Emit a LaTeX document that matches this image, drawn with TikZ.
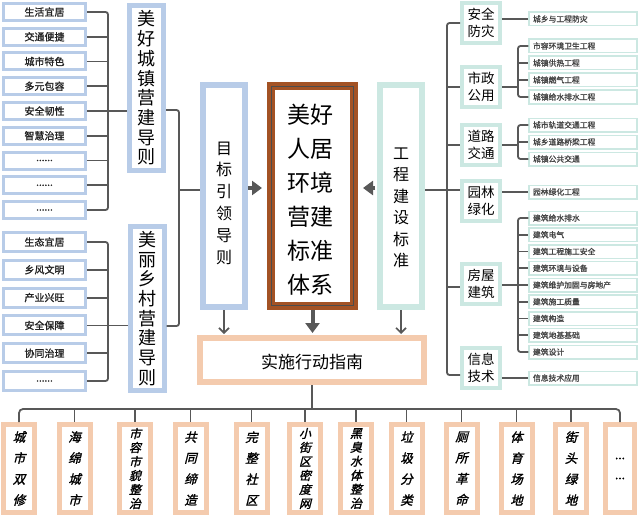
\documentclass[tikz,border=0pt]{standalone}
\usepackage{fontspec}
\setmainfont{Noto Sans CJK SC}
\newfontfamily\cjkb{Noto Sans CJK SC}[FakeBold=1.2]
\newfontfamily\cjkit{Noto Sans CJK SC}[FakeSlant=0.25,FakeBold=1.5]
\usetikzlibrary{arrows.meta}
\definecolor{blueb}{RGB}{184,204,232}
\definecolor{tealc}{RGB}{204,232,226}
\definecolor{peach}{RGB}{244,203,174}
\definecolor{brownc}{RGB}{163,82,36}
\definecolor{linec}{RGB}{88,88,88}
\definecolor{txt}{RGB}{35,35,35}
\newcommand{\mydots}{......}
\begin{document}
\begin{tikzpicture}[x=1pt,y=-1pt,
  conn/.style={draw=linec, line width=1.8pt, rounded corners=2.5pt},
  lbox/.style={draw=blueb, line width=3pt, fill=white, minimum width=82pt, inner sep=0pt, text=txt, font=\cjkb\fontsize{10}{10}\selectfont},
  bigv/.style={draw=blueb, line width=5pt, fill=white, minimum width=34pt, minimum height=165pt, inner sep=0pt, align=center, font=\fontsize{18}{19.7}\selectfont},
  colbox/.style={line width=6pt, fill=white, minimum width=42pt, minimum height=222pt, inner sep=0pt},
  vtext/.style={align=center, inner sep=0pt, font=\fontsize{16}{21.8}\selectfont},
  cat/.style={draw=tealc, line width=4pt, fill=white, minimum width=38pt, minimum height=40pt, inner sep=0pt, align=center, font=\fontsize{13.5}{16.5}\selectfont},
  leaf/.style={draw=tealc, line width=1.5pt, fill=white, text width=100pt, inner xsep=4pt, inner ysep=0pt, minimum height=13.5pt, align=left, text=txt!85, font=\cjkb\fontsize{7.8}{8}\selectfont},
  bbox/.style={draw=peach, line width=5pt, fill=white, minimum width=31pt, minimum height=88pt, inner sep=0pt, align=center},
  b4/.style={bbox, font=\cjkit\fontsize{12.5}{21}\selectfont},
  b6/.style={bbox, font=\cjkit\fontsize{12}{14}\selectfont},
  fat/.style={draw=linec, line width=4pt, -{Triangle[length=10pt,width=14pt]}},
  thin/.style={draw=linec, line width=1.6pt, -{Straight Barb[length=5pt,width=10pt]}}
]
\useasboundingbox (0,0) rectangle (640,519);

% left top group
\foreach \t [count=\i] in {生活宜居,交通便捷,城市特色,多元包容,安全韧性,智慧治理,\mydots,\mydots,\mydots}
  \node[lbox, minimum height=17pt] (t\i) at (44.5,{12+24.75*(\i-1)}) {\t};
% left bottom group
\foreach \t [count=\i] in {生态宜居,乡风文明,产业兴旺,安全保障,协同治理,\mydots}
  \node[lbox, minimum height=19pt] (r\i) at (44.5,{242+27.8*(\i-1)}) {\t};

\node[bigv] (city) at (146.5,88) {美\\好\\城\\镇\\营\\建\\导\\则};
\node[bigv, minimum height=164pt] (rural) at (147,308.5) {美\\丽\\乡\\村\\营\\建\\导\\则};

\coordinate (busA) at (108,0);
\coordinate (busM) at (179,0);
\coordinate (busR) at (447,0);
\coordinate (brk) at (518,0);
\coordinate (busB) at (0,409);

\draw[conn] (t1.east) -- (t1.east -| busA) -- (t9.east -| busA) -- (t9.east);
\foreach \i in {2,...,8} \draw[conn] (t\i.east) -- (t\i.east -| busA);
\draw[conn] (t5.east -| busA) -- (city.west |- t5.east);
\draw[conn] (r1.east) -- (r1.east -| busA) -- (r6.east -| busA) -- (r6.east);
\foreach \i in {2,...,5} \draw[conn] (r\i.east) -- (r\i.east -| busA);
\draw[conn] (r4.east -| busA) -- (rural.west |- r4.east);

% central boxes
\node[colbox, draw=blueb] (goal) at (224,196) {};
\node[vtext] at (224,203) {目\\标\\引\\领\\导\\则};
\node[colbox, draw=brownc, line width=8pt, minimum width=83pt, minimum height=220pt] (main) at (312.5,196) {};
\draw[line width=0.7pt, black!70] ([shift={(4.4,4.4)}]main.north west) rectangle ([shift={(-4.4,-4.4)}]main.south east);
\node[align=center, inner sep=0pt, font=\fontsize{23}{34}\selectfont] at (310,200) {美好\\人居\\环境\\营建\\标准\\体系};
\node[colbox, draw=tealc] (eng) at (401,196) {};
\node[vtext, font=\fontsize{16}{21.5}\selectfont] at (401,208) {工\\程\\建\\设\\标\\准};

\draw[conn] ([yshift=-22pt]city.east) -- ([yshift=-22pt]city.east -| busM) -- ([yshift=-17.5pt]rural.east -| busM) -- ([yshift=-17.5pt]rural.east);
\draw[conn] ([yshift=6pt]goal.west -| busM) -- ([yshift=6pt]goal.west);

\draw[fat, shorten >=5pt] ([yshift=8pt]goal.east) -- ([yshift=8pt]main.west);
\draw[fat, shorten >=5pt, shorten <=2pt] ([yshift=8pt]eng.west) -- ([yshift=8pt]main.east);

% action box
\node[draw=peach, line width=6pt, fill=white, minimum width=224pt, minimum height=44pt, inner sep=0pt] (act) at (312,360) {};
\node[font=\fontsize{17}{17}\selectfont, inner sep=0pt] at (312,362) {实施行动指南};
\draw[thin, shorten >=1pt] (goal.south) -- (goal.south |- act.north);
\draw[thin, shorten >=1pt] (eng.south) -- (eng.south |- act.north);
\draw[fat, shorten >=2pt] (main.south) -- (main.south |- act.north);

% right side categories
\node[cat] (c1) at (481,23) {安全\\防灾};
\node[cat] (c2) at (481,87) {市政\\公用};
\node[cat] (c3) at (481,145) {道路\\交通};
\node[cat] (c4) at (481,201) {园林\\绿化};
\node[cat] (c5) at (481,284) {房屋\\建筑};
\node[cat] (c6) at (481,368) {信息\\技术};

\draw[conn] ([yshift=6pt]eng.east) -- ([yshift=6pt]eng.east -| c4.west);
\draw[conn] (c1.west) -- (c1.west -| busR) -- ([yshift=-7pt]c6.west -| busR) -- ([yshift=-7pt]c6.west);
\draw[conn] (c2.west -| busR) -- (c2.west);
\draw[conn] (c3.west -| busR) -- (c3.west);
\draw[conn] ([yshift=-3pt]c5.west -| busR) -- ([yshift=-3pt]c5.west);

% leaves
\node[leaf] (l1) at (583,19) {城乡与工程防灾};
\node[leaf] (m1) at (583,46) {市容环境卫生工程};
\node[leaf] (m2) at (583,63) {城镇供热工程};
\node[leaf] (m3) at (583,80) {城镇燃气工程};
\node[leaf] (m4) at (583,97) {城镇给水排水工程};
\node[leaf] (d1) at (583,125) {城市轨道交通工程};
\node[leaf] (d2) at (583,142) {城乡道路桥梁工程};
\node[leaf] (d3) at (583,159) {城镇公共交通};
\node[leaf] (g1) at (583,192) {园林绿化工程};
\foreach \t [count=\i] in {建筑给水排水,建筑电气,建筑工程施工安全,建筑环境与设备,建筑维护加固与房地产,建筑施工质量,建筑构造,建筑地基基础,建筑设计}
  \node[leaf] (h\i) at (583,{218+16.75*(\i-1)}) {\t};
\node[leaf] (x1) at (583,378) {信息技术应用};

\draw[conn] (l1.west -| c1.east) -- (l1.west);
\draw[conn] (g1.west -| c4.east) -- (g1.west);
\draw[conn] (x1.west -| c6.east) -- (x1.west);
\draw[conn] (c2.east) -- (c2.east -| brk);
\draw[conn] (m1.west) -- (m1.west -| brk) -- (m4.west -| brk) -- (m4.west);
\foreach \n in {m2,m3} \draw[conn] (\n.west -| brk) -- (\n.west);
\draw[conn] (c3.east) -- (c3.east -| brk);
\draw[conn] (d1.west) -- (d1.west -| brk) -- (d3.west -| brk) -- (d3.west);
\draw[conn] (d2.west -| brk) -- (d2.west);
\draw[conn] (c5.east |- h5.west) -- (h5.west);
\draw[conn] (h1.west) -- (h1.west -| brk) -- (h9.west -| brk) -- (h9.west);
\foreach \i in {2,...,8} \draw[conn] (h\i.west -| brk) -- (h\i.west);

% bottom boxes
\node[b4] (b1) at (19,468.5) {城\\市\\双\\修};
\node[b4] (b2) at (74.5,468.5) {海\\绵\\城\\市};
\node[b6] (b3) at (135,468.5) {市\\容\\市\\貌\\整\\治};
\node[b4] (b4) at (190.5,468.5) {共\\同\\缔\\造};
\node[b4] (b5) at (251.5,468.5) {完\\整\\社\\区};
\node[b6] (b6) at (305,468.5) {小\\街\\区\\密\\度\\网};
\node[b6] (b7) at (356,468.5) {黑\\臭\\水\\体\\整\\治};
\node[b4] (b8) at (406.5,468.5) {垃\\圾\\分\\类};
\node[b4] (b9) at (461.5,468.5) {厕\\所\\革\\命};
\node[b4] (b10) at (516.5,468.5) {体\\育\\场\\地};
\node[b4] (b11) at (571,468.5) {街\\头\\绿\\地};
\node[bbox, minimum width=29pt, font=\cjkb\fontsize{12}{20}\selectfont] (b12) at (620,468.5) {...\\...};

\draw[conn] (act.south) -- (act.south |- busB);
\draw[conn, rounded corners=4pt] (b1.north) -- (b1.north |- busB) -- (b12.north |- busB) -- (b12.north);
\foreach \i in {2,...,11} \draw[conn] (b\i.north |- busB) -- (b\i.north);
\end{tikzpicture}
\end{document}
